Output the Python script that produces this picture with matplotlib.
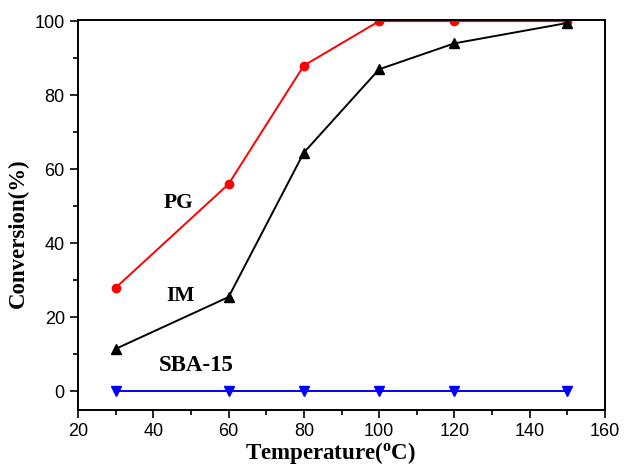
import numpy as np
import matplotlib
matplotlib.use("Agg")
import matplotlib.pyplot as plt
from matplotlib.ticker import MultipleLocator

# data
temperature = [30, 60, 80, 100, 120, 150]
pg = [28, 56, 88, 100, 100, 100]
im = [11.5, 25.5, 64.5, 87, 94, 99.5]
sba15 = [0, 0, 0, 0, 0, 0]

fig = plt.figure(figsize=(6.24, 4.72), dpi=100)
ax = fig.add_axes([0.125, 0.1314, 0.8446, 0.8262])

ax.plot(temperature, pg, color="red", marker="o", ms=6, lw=1.4)
ax.plot(temperature, im, color="black", marker="^", ms=6.5, lw=1.4)
ax.plot(temperature, sba15, color="blue", marker="v", ms=6.5, lw=1.4)

serif = dict(family="Liberation Serif", weight="bold")
ax.text(46.6, 51.0, "PG", ha="center", va="center", fontsize=15.5, **serif)
ax.text(47.1, 25.7, "IM", ha="center", va="center", fontsize=15.5, **serif)
ax.text(51.5, 7.0, "SBA-15", ha="center", va="center", fontsize=16.5, **serif)

ax.set_xlim(20, 160)
ax.set_ylim(-5, 100.3)
ax.xaxis.set_major_locator(MultipleLocator(20))
ax.xaxis.set_minor_locator(MultipleLocator(10))
ax.yaxis.set_major_locator(MultipleLocator(20))
ax.yaxis.set_minor_locator(MultipleLocator(10))
ax.tick_params(which="both", direction="out", width=1.2)
ax.tick_params(which="major", length=6, labelsize=13)
ax.tick_params(which="minor", length=3.5)
for lab in ax.get_xticklabels() + ax.get_yticklabels():
    lab.set_family("Liberation Sans")
for s in ax.spines.values():
    s.set_linewidth(1.4)

ax.set_xlabel("Temperature($\\mathregular{^o}$C)", fontsize=16.5, **serif)
ax.set_ylabel("Conversion(%)", fontsize=16.5, **serif)
ax.xaxis.set_label_coords(0.48, -0.078)
ax.yaxis.set_label_coords(-0.093, 0.454)

fig.savefig("out.png", dpi=100)
